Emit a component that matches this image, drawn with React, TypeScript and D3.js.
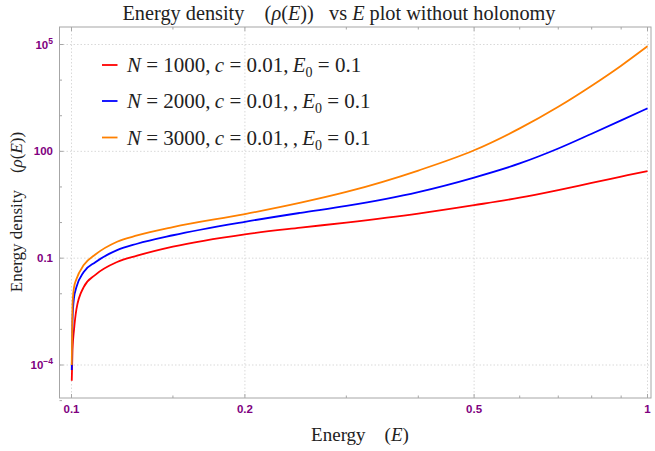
import * as d3 from 'd3'
import React from 'react'

const WIDTH = 655
const HEIGHT = 451

// energy sample points and densities
const energy = [0.1001, 0.1004, 0.101, 0.102, 0.105, 0.11, 0.12, 0.13, 0.15, 0.2, 0.25, 0.3, 0.4, 0.5, 0.6, 0.7, 0.8, 0.9, 1.0]
const rhoN1000 = [3.6e-5, 2.6e-4, 0.00095, 0.0037, 0.0154, 0.034, 0.078, 0.117, 0.21, 0.467, 0.72, 1.0, 1.79, 3.08, 4.98, 8.18, 13.0, 19.5, 28]
const rhoN2000 = [7.2e-5, 1.8e-3, 0.0076, 0.0154, 0.041, 0.077, 0.168, 0.254, 0.44, 1.05, 1.88, 2.94, 7.19, 18.4, 45.7, 120, 312, 738, 1610]
const rhoN3000 = [1.0e-4, 4.8e-3, 0.0148, 0.0259, 0.064, 0.127, 0.29, 0.435, 0.75, 1.73, 3.62, 7.24, 28.9, 107, 440, 1780, 6950, 25400, 89000]

const seriesNames = ['N = 1000', 'N = 2000', 'N = 3000']
const seriesColors = ['#ff0000', '#0000ff', '#ff8000']

const xMajorTicks = [0.1, 0.2, 0.5, 1]
const xMajorLabels = ['0.1', '0.2', '0.5', '1']
const xMinorTicks = [0.15, 0.3, 0.4, 0.6, 0.7, 0.8, 0.9]

const yMajorTicks = [1e-4, 0.1, 100, 1e5]
const yTickBase = ['10', '0.1', '100', '10']
const yTickExp = ['\u22124', '', '', '5']
const yMinorTicks = [1e-5, 1e-3, 1e-2, 1, 10, 1e3, 1e4]

const frame = { left: 59.5, right: 651, top: 27, bottom: 398 }

const PURPLE = '#800080'
const SERIF = '"Liberation Serif", "DejaVu Serif", serif'
const SANS = '"Liberation Sans", Arial, sans-serif'
const THIN = '\u2009'

const LegendLabel = ({ n, extraComma }) => (
  <>
    <tspan fontStyle="italic">N</tspan>
    <tspan> = {n},{THIN}</tspan>
    <tspan fontStyle="italic">c</tspan>
    <tspan> = 0.01,{THIN}{extraComma ? ',' + THIN : ''}</tspan>
    <tspan fontStyle="italic">E</tspan>
    <tspan dy={5} fontSize={14}>0</tspan>
    <tspan dy={-5}> = 0.1</tspan>
  </>
)

export default function App() {
  const x = d3.scaleLog().domain([0.1, 1]).range([71.5, 647.5])
  const y = d3.scaleLog().domain([1e-4, 1e5]).range([365, 44.5])

  const line = d3
    .line<[number, number]>()
    .x(d => x(d[0]))
    .y(d => y(d[1]))
    .curve(d3.curveMonotoneX)

  const series = [rhoN1000, rhoN2000, rhoN3000].map(vals => energy.map((e, i) => [e, vals[i]] as [number, number]))

  const legendY = [65, 101, 137.5]

  return (
    <svg width={WIDTH} height={HEIGHT} style={{ display: 'block', position: 'absolute', left: 0, top: 0 }}>
      <rect width={WIDTH} height={HEIGHT} fill="#fff" />
      <defs>
        <clipPath id="plot-clip">
          <rect x={frame.left} y={frame.top} width={frame.right - frame.left} height={frame.bottom - frame.top} />
        </clipPath>
      </defs>

      {/* grid */}
      <g stroke="#d9d9d9" strokeWidth={1} strokeDasharray="1.5,2">
        {xMajorTicks.map(t => (
          <line key={'gx' + t} x1={x(t)} x2={x(t)} y1={frame.top} y2={frame.bottom} />
        ))}
        {yMajorTicks.map(t => (
          <line key={'gy' + t} x1={frame.left} x2={frame.right} y1={y(t)} y2={y(t)} />
        ))}
      </g>

      {/* frame */}
      <rect
        x={frame.left}
        y={frame.top}
        width={frame.right - frame.left}
        height={frame.bottom - frame.top}
        fill="none"
        stroke="#a6a6a6"
        strokeWidth={1}
      />

      {/* ticks */}
      <g stroke="#a6a6a6" strokeWidth={1}>
        {xMajorTicks.map(t => (
          <g key={'tx' + t}>
            <line x1={x(t)} x2={x(t)} y1={frame.bottom} y2={frame.bottom - 4} />
            <line x1={x(t)} x2={x(t)} y1={frame.top} y2={frame.top + 4} />
          </g>
        ))}
        {xMinorTicks.map(t => (
          <g key={'mx' + t}>
            <line x1={x(t)} x2={x(t)} y1={frame.bottom} y2={frame.bottom - 2.5} />
            <line x1={x(t)} x2={x(t)} y1={frame.top} y2={frame.top + 2.5} />
          </g>
        ))}
        {yMajorTicks.map(t => (
          <line key={'ty' + t} x1={frame.left} x2={frame.left + 4} y1={y(t)} y2={y(t)} />
        ))}
        {yMinorTicks.map(t => (
          <line key={'my' + t} x1={frame.left} x2={frame.left + 2.5} y1={y(t)} y2={y(t)} />
        ))}
      </g>

      {/* curves */}
      <g clipPath="url(#plot-clip)" fill="none" strokeWidth={1.8}>
        {series.map((s, i) => (
          <path key={seriesNames[i]} d={line(s) || ''} stroke={seriesColors[i]} />
        ))}
      </g>

      {/* tick labels */}
      <g fill={PURPLE} fontFamily={SANS} fontWeight="bold" fontSize={11.5}>
        {xMajorTicks.map((t, i) => (
          <text key={'lx' + t} x={x(t)} y={413} textAnchor="middle">
            {xMajorLabels[i]}
          </text>
        ))}
        {yMajorTicks.map((t, i) => (
          <text key={'ly' + t} x={53} y={y(t) + 4} textAnchor="end">
            {yTickBase[i]}
            {yTickExp[i] && (
              <tspan dy={-5} fontSize={8.5}>
                {yTickExp[i]}
              </tspan>
            )}
          </text>
        ))}
      </g>

      {/* legend */}
      <g fontFamily={SERIF} fontSize={21} fill="#222">
        {seriesNames.map((name, i) => (
          <g key={'lg' + name}>
            <line x1={102} x2={117.5} y1={legendY[i]} y2={legendY[i]} stroke={seriesColors[i]} strokeWidth={1.8} />
            <text x={127} y={legendY[i] + 7}>
              <LegendLabel n={name.slice(4)} extraComma={i > 0} />
            </text>
          </g>
        ))}
      </g>

      {/* titles */}
      <g fontFamily={SERIF} fill="#222">
        <text x={339} y={20} textAnchor="middle" fontSize={20.3}>
          {'Energy density\u2002\u2002('}
          <tspan fontStyle="italic">ρ</tspan>(<tspan fontStyle="italic">E</tspan>
          {'))\u2002 vs '}
          <tspan fontStyle="italic">E</tspan>
          {' plot without holonomy'}
        </text>
        <text x={360} y={441} textAnchor="middle" fontSize={19}>
          {'Energy\u2002\u2002('}
          <tspan fontStyle="italic">E</tspan>)
        </text>
        <text transform="translate(22,212) rotate(-90)" textAnchor="middle" fontSize={17}>
          {'Energy density\u2002\u2002('}
          <tspan fontStyle="italic">ρ</tspan>(<tspan fontStyle="italic">E</tspan>
          {'))'}
        </text>
      </g>
    </svg>
  )
}
